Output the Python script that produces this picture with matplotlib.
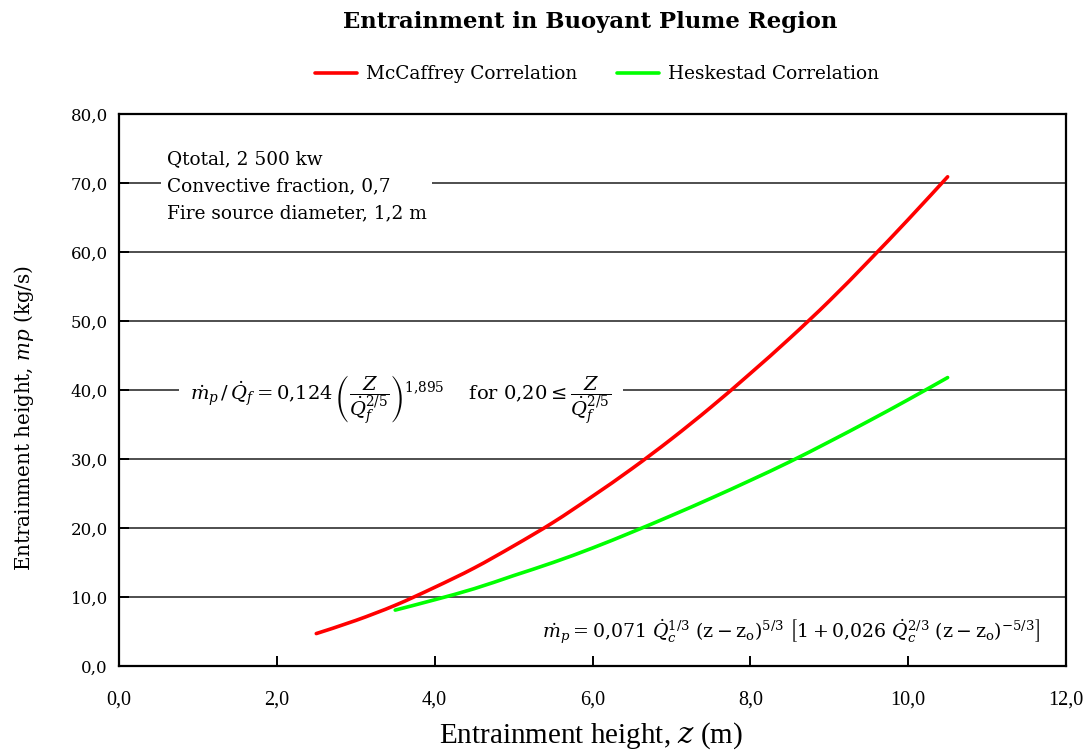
import matplotlib
matplotlib.use("Agg")
import matplotlib.pyplot as plt
from matplotlib.ticker import FuncFormatter
from matplotlib.path import Path
from matplotlib.patches import PathPatch
from matplotlib.lines import Line2D

# ---- data ----
z_mccaffrey = [2.5, 3.0, 3.5, 4.0, 4.5, 5.0, 5.5, 6.0, 6.5, 7.0, 7.5, 8.0, 8.5, 9.0, 9.5, 10.0, 10.5]
mp_mccaffrey = [4.7, 6.6, 8.8, 11.4, 14.2, 17.4, 20.8, 24.6, 28.6, 32.9, 37.5, 42.4, 47.5, 52.9, 58.7, 64.7, 70.9]
z_heskestad = [3.5, 4.0, 4.5, 5.0, 5.5, 6.0, 6.5, 7.0, 7.5, 8.0, 8.5, 9.0, 9.5, 10.0, 10.5]
mp_heskestad = [8.1, 9.6, 11.2, 13.1, 15.0, 17.1, 19.4, 21.8, 24.3, 26.9, 29.6, 32.5, 35.5, 38.6, 41.8]
series_labels = ["McCaffrey Correlation", "Heskestad Correlation"]
x_ticks = [0, 2, 4, 6, 8, 10, 12]
y_ticks = [0, 10, 20, 30, 40, 50, 60, 70, 80]

plt.rcParams['mathtext.fontset'] = 'dejavuserif'
SERIF = ['DejaVu Serif']
NARROW = ['Liberation Serif']

W, H = 1087, 751
fig = plt.figure(figsize=(W / 100, H / 100), dpi=100)
ax = fig.add_axes([119 / W, (H - 666) / H, (1066 - 119) / W, (666 - 114) / H])

ax.set_xlim(0, 12)
ax.set_ylim(0, 80)
ax.set_xticks(x_ticks)
ax.set_yticks(y_ticks)
fmt = FuncFormatter(lambda v, p: f"{v:.1f}".replace('.', ','))
ax.xaxis.set_major_formatter(fmt)
ax.yaxis.set_major_formatter(fmt)

for s in ax.spines.values():
    s.set_linewidth(1.6)
    s.set_color('black')

ax.tick_params(axis='both', direction='in', length=7, width=1.4, color='black')
ax.tick_params(axis='x', pad=18)
ax.tick_params(axis='y', pad=8)
for lab in ax.get_xticklabels():
    lab.set_fontfamily(NARROW)
    lab.set_fontsize(14.5)
for lab in ax.get_yticklabels():
    lab.set_fontfamily(SERIF)
    lab.set_fontsize(12)

for yv in y_ticks[1:-1]:
    ax.axhline(yv, color='#404040', lw=1.3, zorder=1)


def smooth_path(xs, ys):
    """Excel-style smoothed line: Catmull-Rom segments as cubic Beziers."""
    pts = list(zip(xs, ys))
    verts = [pts[0]]
    codes = [Path.MOVETO]
    n = len(pts)
    for i in range(n - 1):
        p0 = pts[i - 1] if i > 0 else pts[i]
        p1 = pts[i]
        p2 = pts[i + 1]
        p3 = pts[i + 2] if i + 2 < n else pts[i + 1]
        c1 = (p1[0] + (p2[0] - p0[0]) / 6, p1[1] + (p2[1] - p0[1]) / 6)
        c2 = (p2[0] - (p3[0] - p1[0]) / 6, p2[1] - (p3[1] - p1[1]) / 6)
        verts += [c1, c2, p2]
        codes += [Path.CURVE4] * 3
    return Path(verts, codes)


for xs, ys, col in [(z_mccaffrey, mp_mccaffrey, '#FF0000'), (z_heskestad, mp_heskestad, '#00FF00')]:
    patch = PathPatch(smooth_path(xs, ys), facecolor='none', edgecolor=col, lw=2.6,
                      capstyle='round', joinstyle='round', zorder=3)
    ax.add_patch(patch)

handles = [Line2D([], [], color='#FF0000', lw=2.6, solid_capstyle='round'),
           Line2D([], [], color='#00FF00', lw=2.6, solid_capstyle='round')]

fig.text(590 / W, 1 - 22 / H, "Entrainment in Buoyant Plume Region", ha='center', va='center',
         fontfamily=SERIF, fontweight='bold', fontsize=16.4)

fig.legend(handles=handles, labels=series_labels, loc='center', bbox_to_anchor=(597 / W, 1 - 74 / H),
           ncol=2, frameon=False, prop={'family': SERIF, 'size': 13.3},
           handlelength=2.3, handletextpad=0.5, columnspacing=2.1)

fig.text(591 / W, 1 - 736 / H, r"Entrainment height, $\mathit{z}$ (m)", ha='center', va='center',
         fontfamily=NARROW, fontsize=21)
fig.text(24 / W, 1 - 418 / H, r"Entrainment height, $\mathit{mp}$ (kg/s)", ha='center', va='center',
         rotation=90, fontfamily=SERIF, fontsize=14.3)

ax.text(167 / W, 1 - 150 / H, "Qtotal, 2 500 kw\nConvective fraction, 0,7\nFire source diameter, 1,2 m",
        transform=fig.transFigure, ha='left', va='top', fontfamily=SERIF, fontsize=13.3,
        linespacing=1.65, zorder=4,
        bbox=dict(facecolor='white', edgecolor='none', pad=4))

eq1 = (r"$\dot{m}_p\,/\,\dot{Q}_f = 0{,}124\,\left(\dfrac{Z}{\dot{Q}_f^{2/5}}\right)^{1{,}895}$"
       r"$\quad$ for $0{,}20 \leq \dfrac{Z}{\dot{Q}_f^{2/5}}$")
ax.text(401 / W, 1 - 400 / H, eq1, transform=fig.transFigure, ha='center', va='center',
        fontfamily=SERIF, fontsize=14, zorder=4,
        bbox=dict(facecolor='white', edgecolor='none', pad=8))

eq2 = (r"$\dot{m}_p = 0{,}071\ \dot{Q}_c^{1/3}\ (\mathrm{z} - \mathrm{z_o})^{5/3}\ "
       r"\left[1 + 0{,}026\ \dot{Q}_c^{2/3}\ (\mathrm{z} - \mathrm{z_o})^{-5/3}\right]$")
ax.text(1040 / W, 1 - 632 / H, eq2, transform=fig.transFigure, ha='right', va='center',
        fontfamily=SERIF, fontsize=13.6, zorder=4)

fig.savefig("out.png", dpi=100)
